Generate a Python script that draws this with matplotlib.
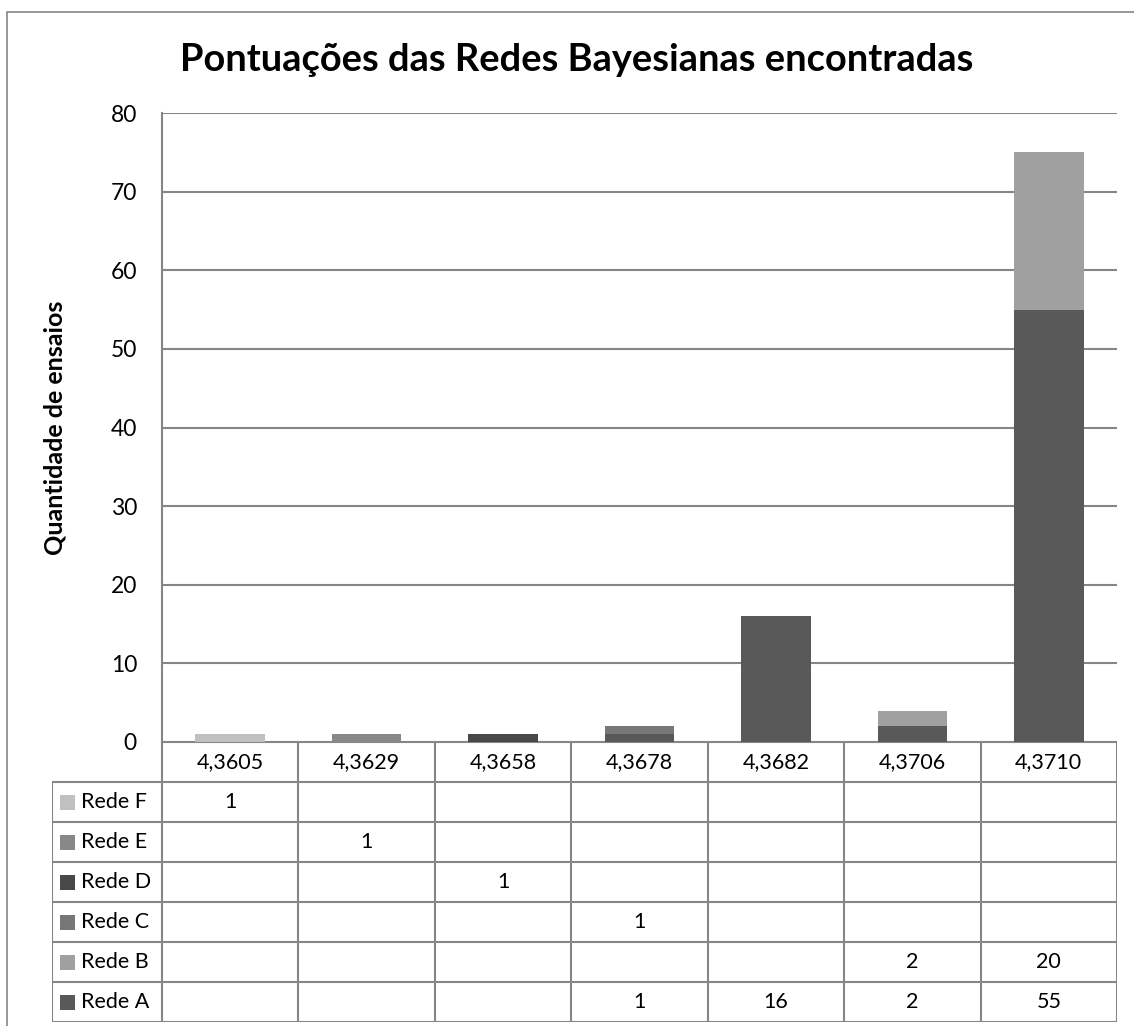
import matplotlib
matplotlib.use("Agg")
import matplotlib.pyplot as plt
from matplotlib.patches import Rectangle
from matplotlib.lines import Line2D
import numpy as np

plt.rcParams['font.family'] = ['Lato', 'DejaVu Sans']

title = "Pontuações das Redes Bayesianas encontradas"
ylabel = "Quantidade de ensaios"
categories = ["4,3605", "4,3629", "4,3658", "4,3678", "4,3682", "4,3706", "4,3710"]
series_names = ["Rede A", "Rede B", "Rede C", "Rede D", "Rede E", "Rede F"]
rede_a = [0, 0, 0, 1, 16, 2, 55]
rede_b = [0, 0, 0, 0, 0, 2, 20]
rede_c = [0, 0, 0, 1, 0, 0, 0]
rede_d = [0, 0, 1, 0, 0, 0, 0]
rede_e = [0, 1, 0, 0, 0, 0, 0]
rede_f = [1, 0, 0, 0, 0, 0, 0]
series_values = [rede_a, rede_b, rede_c, rede_d, rede_e, rede_f]
colors = ["#595959", "#a0a0a0", "#777777", "#484848", "#888888", "#c0c0c0"]
yticks = [0, 10, 20, 30, 40, 50, 60, 70, 80]

W, H = 1134, 1026
fig = plt.figure(figsize=(W / 100, H / 100), dpi=100)

def fx(px):
    return px / W

def fy(py):
    return 1 - py / H

grid_c = "#868686"

# outer frame
fig.add_artist(Rectangle((fx(7), fy(1100)), fx(1200), (1100 - 12) / H, transform=fig.transFigure,
                         fill=False, edgecolor=grid_c, lw=1.2))

L, R, T, B = 162, 1117, 113, 742
ax = fig.add_axes([fx(L), fy(B), (R - L) / W, (B - T) / H])
n = len(categories)
x = np.arange(n)
bottom = np.zeros(n)
for vals, c in zip(series_values, colors):
    ax.bar(x, vals, width=0.51, bottom=bottom, color=c, edgecolor="none", zorder=3)
    bottom += np.array(vals)
ax.set_xlim(-0.5, n - 0.5)
ax.set_ylim(0, 80)
ax.set_yticks(yticks)
ax.set_yticklabels([str(v) for v in yticks], fontsize=16.5)
ax.tick_params(axis='y', length=0, pad=18)
ax.set_xticks([])
ax.yaxis.grid(True, color=grid_c, lw=1.5, zorder=0)
for s in ["top", "right", "bottom"]:
    ax.spines[s].set_visible(False)
ax.spines["left"].set_color(grid_c)
ax.spines["left"].set_linewidth(1.5)
ax.set_ylabel(ylabel, fontsize=18, fontweight="bold", labelpad=0)
ax.yaxis.set_label_coords((66 - L) / (R - L), 0.5)

fig.text(fx(577), fy(60), title, ha="center", va="center", fontsize=27.4, fontweight="bold")

# data table
TL, TB = 52, 1022
row_h = 40
header_top = B
tax = fig.add_axes([fx(TL), fy(TB), (R - TL) / W, (TB - header_top) / H])
tax.set_xlim(TL, R)
tax.set_ylim(TB, header_top)
tax.axis("off")
col_w = (R - L) / n
lw = 1.5
fs = 15.5
# header row
tax.add_line(Line2D([L, R], [B, B], color=grid_c, lw=lw))
for i in range(n + 1):
    xx = L + i * col_w
    tax.add_line(Line2D([xx, xx], [B, TB], color=grid_c, lw=lw))
for i, cat in enumerate(categories):
    tax.text(L + (i + 0.5) * col_w, B + row_h / 2, cat, ha="center", va="center", fontsize=fs)
rows_top = B + row_h
tax.add_line(Line2D([TL, R], [rows_top, rows_top], color=grid_c, lw=lw))
tax.add_line(Line2D([TL, TL], [rows_top, TB], color=grid_c, lw=lw))
order = list(range(len(series_names)))[::-1]
for r, si in enumerate(order):
    y0 = rows_top + r * row_h
    y1 = y0 + row_h
    tax.add_line(Line2D([TL, R], [y1, y1], color=grid_c, lw=lw))
    yc = (y0 + y1) / 2
    tax.add_patch(Rectangle((60, yc - 7.5), 15, 15, color=colors[si], lw=0))
    tax.text(81, yc, series_names[si], ha="left", va="center", fontsize=fs)
    for i, v in enumerate(series_values[si]):
        if v:
            tax.text(L + (i + 0.5) * col_w, yc, str(v), ha="center", va="center", fontsize=fs)

fig.savefig("out.png", dpi=100)
